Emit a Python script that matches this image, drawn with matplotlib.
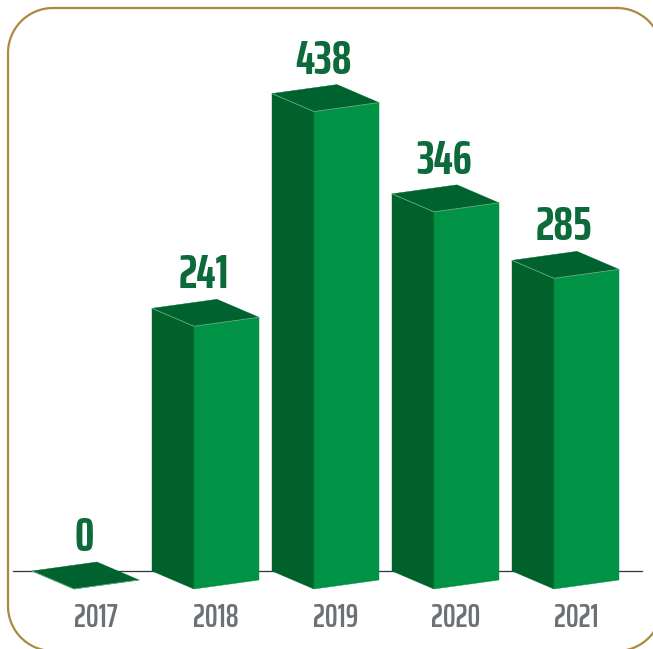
import numpy as np
import matplotlib
matplotlib.use("Agg")
import matplotlib.pyplot as plt
from matplotlib.patches import Polygon

years = ["2017", "2018", "2019", "2020", "2021"]
values = [0, 241, 438, 346, 285]

FRONT = "#009245"
SIDE = "#00612b"
TOP = "#00622e"
EDGE = "#63b083"
LABEL_GREEN = "#0d6a3a"
YEAR_GRAY = "#6c7176"
GOLD = "#a98a3f"
FONT = ["Saira ExtraCondensed", "DejaVu Sans"]

W, H, DPI = 653, 649, 100
px_x = 120.0   # pixels per category step
px_y = 1.09    # pixels per unit of value
base_px = 589  # pixel row of the front-bottom corners
left_px = 74   # pixel column of the first front corner
pt = 72.0 / DPI

fig = plt.figure(figsize=(W / DPI, H / DPI), dpi=DPI)
fig.patch.set_facecolor("white")

# pixel-space layer for the rounded gold frame (rows counted from the top)
frame_ax = fig.add_axes([0, 0, 1, 1])
frame_ax.set_xlim(0, W)
frame_ax.set_ylim(H, 0)
frame_ax.axis("off")

def rounded_outline(x0, y0, x1, y1, r, n=40):
    pts = []
    corners = [(x1 - r, y0 + r, -90, 0), (x1 - r, y1 - r, 0, 90),
               (x0 + r, y1 - r, 90, 180), (x0 + r, y0 + r, 180, 270)]
    for cx, cy, a0, a1 in corners:
        a = np.radians(np.linspace(a0, a1, n))
        pts += list(zip(cx + r * np.cos(a), cy + r * np.sin(a)))
    pts.append(pts[0])
    return np.array(pts)

outline = rounded_outline(8, 8, 662, 651, 45)
frame_ax.plot(outline[:, 0], outline[:, 1], color=GOLD, lw=1.6, clip_on=False)

ax = fig.add_axes([0, 0, 1, 1])
ax.set_xlim(-left_px / px_x, (W - left_px) / px_x)
ax.set_ylim(-(H - base_px) / px_y, base_px / px_y)
ax.axis("off")

# depth directions of the two visible side faces, in data units
lx, ly = -42 / px_x, 18 / px_y
rx, ry = 65 / px_x, 9 / px_y

# floor line running behind the boxes
ax.plot([(13 - left_px) / px_x, (642 - left_px) / px_x], [ly, ly],
        color="#333333", lw=0.9, zorder=1)

for i, (yr, v) in enumerate(zip(years, values)):
    if v > 0:
        left = [(i, 0), (i + lx, ly), (i + lx, v + ly), (i, v)]
        right = [(i, 0), (i + rx, ry), (i + rx, v + ry), (i, v)]
        ax.add_patch(Polygon(left, closed=True, fc=SIDE, ec=SIDE, lw=0.3, zorder=2))
        ax.add_patch(Polygon(right, closed=True, fc=FRONT, ec=FRONT, lw=0.3, zorder=2))
    top = [(i, v), (i + lx, v + ly), (i + lx + rx, v + ly + ry), (i + rx, v + ry)]
    ax.add_patch(Polygon(top, closed=True, fc=TOP, ec=TOP, lw=0.3, zorder=3))
    ax.plot([i + lx, i, i + rx], [v + ly, v, v + ry], color=EDGE, lw=0.6, zorder=4)

    ax.annotate(str(v), xy=(i, v), xytext=(10 * pt, 38 * pt),
                textcoords="offset points", ha="center", va="baseline",
                family=FONT, fontsize=35, fontweight="bold", color=LABEL_GREEN)
    ax.annotate(yr, xy=(i, 0), xytext=(22 * pt, -38 * pt),
                textcoords="offset points", ha="center", va="baseline",
                family=FONT, fontsize=23, fontweight=600, color=YEAR_GRAY)

fig.savefig("out.png", dpi=DPI, facecolor="white")
